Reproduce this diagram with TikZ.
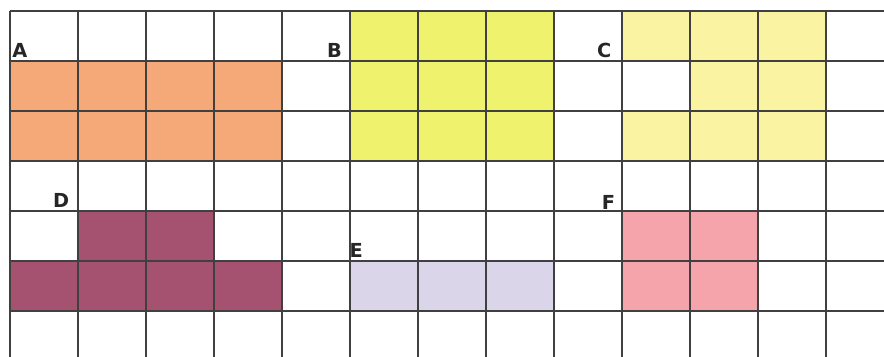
\documentclass[tikz,border=0pt]{standalone}
\usepackage{fontspec}
\setsansfont{DejaVu Sans}
\usepackage{xcolor}
\usetikzlibrary{positioning}

\definecolor{shapeA}{RGB}{245,168,120}
\definecolor{shapeB}{RGB}{238,242,108}
\definecolor{shapeC}{RGB}{250,244,162}
\definecolor{shapeD}{RGB}{165,82,112}
\definecolor{shapeE}{RGB}{219,213,234}
\definecolor{shapeF}{RGB}{245,164,172}

\begin{document}
\begin{tikzpicture}[
        x=1.36cm, y=-1cm,
        gridline/.style={draw=black!75, line width=0.9pt},
        letter/.style={font=\sffamily\bfseries\fontsize{11}{13}\selectfont, inner sep=0pt, anchor=base west, text=black!85}
    ]
        \useasboundingbox (-0.147,-0.22) rectangle (12.853,6.9);
        \clip (-0.147,-0.22) rectangle (12.853,6.9);

        % Shape A
        \foreach \c in {0,...,3} \foreach \r in {1,2} \fill[shapeA] (\c,\r) rectangle ++(1,1);
        % Shape B
        \foreach \c in {5,...,7} \foreach \r in {0,1,2} \fill[shapeB] (\c,\r) rectangle ++(1,1);
        % Shape C
        \foreach \c/\r in {9/0,10/0,11/0,10/1,11/1,9/2,10/2,11/2} \fill[shapeC] (\c,\r) rectangle ++(1,1);
        % Shape D
        \foreach \c/\r in {1/4,2/4,0/5,1/5,2/5,3/5} \fill[shapeD] (\c,\r) rectangle ++(1,1);
        % Shape E
        \foreach \c in {5,...,7} \fill[shapeE] (\c,5) rectangle ++(1,1);
        % Shape F
        \foreach \c in {9,10} \foreach \r in {4,5} \fill[shapeF] (\c,\r) rectangle ++(1,1);

        % Grid
        \foreach \c in {0,...,13} \draw[gridline] (\c,0) -- (\c,7.2);
        \foreach \r in {0,...,7} \draw[gridline] (0,\r) -- (13.2,\r);

        % Labels
        \node[letter] (labA) at (0.03,0.92) {A};
        \node[letter] (labB) at (4.66,0.92) {B};
        \node[letter] (labC) at (8.63,0.93) {C};
        \node[letter] (labD) at (0.63,3.92) {D};
        \node[letter] (labE) at (4.99,4.92) {E};
        \node[letter] (labF) at (8.70,3.96) {F};

    \end{tikzpicture}
\end{document}
